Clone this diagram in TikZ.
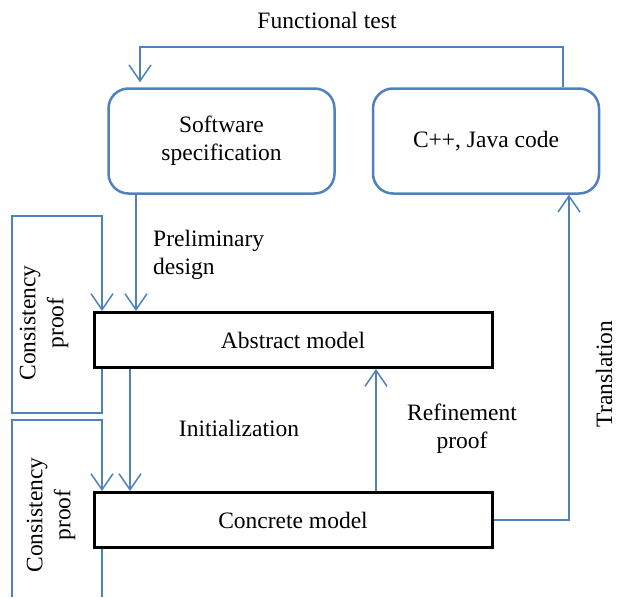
\documentclass[tikz,border=0pt]{standalone}
\usepackage{fontspec}
\setmainfont{Liberation Serif}
\usetikzlibrary{arrows.meta}
\definecolor{lineblue}{RGB}{79,129,189}
\begin{document}
\begin{tikzpicture}[x=1pt,y=-1pt,
  font=\fontsize{23.5}{28}\selectfont,
  flow/.style={draw=lineblue, line width=1.5pt},
  arr/.style={flow, -{Straight Barb[length=16pt,width=22pt,line width=1.5pt]}},
  rbox/.style={draw=lineblue, line width=2.5pt, rounded corners=20pt, minimum width=226pt, minimum height=105pt, align=center},
  mbox/.style={draw=black, line width=3pt, minimum width=398pt, minimum height=55pt},
  lbl/.style={align=center, inner sep=0pt},
  llbl/.style={align=left, inner sep=0pt}
]
\useasboundingbox (0,0) rectangle (617,597);
\node[rbox] (spec) at (221.5,141) {Software\\specification};
\node[rbox] (code) at (486,141) {C++, Java code};
\node[mbox] (abs) at (293,340) {Abstract model};
\node[mbox] (con) at (293,520) {Concrete model};

% coordinates
\coordinate (ftR) at (563,47);
\coordinate (ftL) at (140,47);
\coordinate (pd) at (136,0);
\coordinate (ini) at (130,0);
\coordinate (ref) at (376,0);
\coordinate (tr) at (569,0);
\coordinate (a1) at (102,413);
\coordinate (a2) at (12,413);
\coordinate (a3) at (12,216);
\coordinate (a4) at (102,216);
\coordinate (b1) at (102,597);
\coordinate (b2) at (12,597);
\coordinate (b3) at (12,420);
\coordinate (b4) at (102,420);

% functional test
\draw[arr, shorten >=5pt] (ftR |- code.north) -- (ftR) -- (ftL) -- (ftL |- spec.north);
\node[lbl] (ftlabel) at (327,20) {Functional test};

% preliminary design
\draw[arr] (pd |- spec.south) -- (pd |- abs.north);
\node[llbl, anchor=north west] (pdlabel) at (153,230) {Preliminary\\design};

% consistency loop 1
\draw[arr] (a1 |- abs.south) -- (a1) -- (a2) -- (a3) -- (a4) -- (a4 |- abs.north);
\node[lbl, rotate=90] (cp1) at (44,323) {Consistency\\proof};

% consistency loop 2
\draw[flow] (b1 |- con.south) -- (b1);
\draw[arr] (b2) -- (b3) -- (b4) -- (b4 |- con.north);
\node[lbl, rotate=90] (cp2) at (51,515) {Consistency\\proof};

% initialization
\draw[arr] (ini |- abs.south) -- (ini |- con.north);
\node[lbl] (inilabel) at (239,428) {Initialization};

% refinement
\draw[arr] (ref |- con.north) -- (ref |- abs.south);
\node[lbl] (reflabel) at (462,429) {Refinement\\proof};

% translation
\draw[arr] (con.east) -- (tr |- con.east) -- (tr |- code.south);
\node[lbl, rotate=90] (trlabel) at (604,374) {Translation};
\end{tikzpicture}
\end{document}
